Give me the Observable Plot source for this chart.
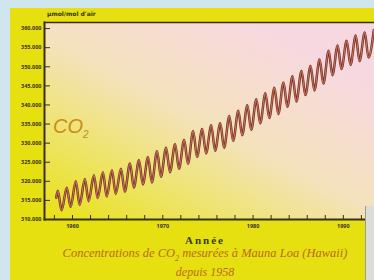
<!DOCTYPE html>
<html><head><meta charset="utf-8">
<script src="https://cdn.jsdelivr.net/npm/d3@7"></script>
<script src="https://cdn.jsdelivr.net/npm/@observablehq/plot@0.6"></script>
<style>
body{margin:0;background:#cfe6ee;}
#wrap{position:relative;width:374px;height:280px;background:#cfe6ee;overflow:hidden;}
#frame{position:absolute;left:10px;top:8px;width:364px;height:272px;background:#e6e010;}
#chart{position:absolute;left:0;top:0;}
.t{position:absolute;white-space:nowrap;}
#unit{left:47px;top:10px;line-height:8px;font:bold 6px "DejaVu Sans",sans-serif;color:#3a3418;}
#co2{left:53px;top:115px;line-height:22px;font:italic 20px "Liberation Sans",sans-serif;color:#c98c1c;}
#co2 sub{font-size:10px;line-height:0;}
#annee{left:0;width:410px;text-align:center;top:234px;line-height:12px;font:bold 11px "Liberation Serif",serif;letter-spacing:2px;color:#3b3a12;}
#cap1{left:0;width:410px;text-align:center;top:246px;line-height:12px;height:12px;font:italic 12.5px "Liberation Serif",serif;color:#bd6a16;}
#cap1 sub{font-size:8px;line-height:0;}
#cap2{left:0;width:410px;text-align:center;top:265px;line-height:12px;height:12px;font:italic 12px "Liberation Serif",serif;color:#bd6a16;}
#side{position:absolute;left:365px;top:206px;width:9px;height:74px;background:#dcdcd8;border-left:1px solid #9a9a90;}
</style></head>
<body>
<div id="wrap">
  <div id="frame"></div>
  <div id="chart"></div>
  <div class="t" id="unit">µmol/mol d'air</div>
  <div class="t" id="co2">CO<sub>2</sub></div>
  <div class="t" id="annee">Année</div>
  <div class="t" id="cap1">Concentrations de CO<sub>2</sub> mesurées à Mauna Loa (Hawaii)</div>
  <div class="t" id="cap2">depuis 1958</div>
  <div id="side"></div>
</div>
<script>
// Data (Mauna Loa CO2, ppm)
const startYear = 1958.2;
const startValue = 315.7;
const years = [1958,1959,1960,1961,1962,1963,1964,1965,1966,1967,1968,1969,1970,1971,1972,1973,1974,1975,1976,1977,1978,1979,1980,1981,1982,1983,1984,1985,1986,1987,1988,1989,1990,1991,1992,1993];
const peaks = [317.5,318.3,320.0,320.6,321.6,322.4,322.9,323.3,324.7,325.5,326.3,327.9,328.8,329.7,330.8,333.2,333.7,334.7,335.2,337.1,338.5,339.9,341.5,343.1,344.5,345.9,347.5,348.9,350.2,351.9,354.2,355.6,356.8,358.2,359.0,359.6];
const troughs = [312.4,313.3,313.8,314.8,315.6,316.0,316.7,317.3,318.4,319.2,319.7,321.2,322.4,323.3,324.6,326.4,327.3,328.0,328.8,330.6,332.1,333.5,335.2,336.6,337.6,339.5,340.9,342.6,343.8,345.6,347.8,349.4,350.5,351.5,352.4];
const yTicks = [310,315,320,325,330,335,340,345,350,355,360];
const xMinorTicks = [1958,1960,1962,1964,1966,1968,1970,1972,1974,1976,1978,1980,1982,1984,1986,1988,1990,1992];
const xLabels = [1960,1970,1980,1990];

const points = [{t: startYear, v: startValue}];
years.forEach((y, i) => {
  points.push({t: y + 0.37, v: peaks[i]});
  if (i < troughs.length) points.push({t: y + 0.79, v: troughs[i]});
});

const ink = "#3a3018";
const chart = Plot.plot({
  width: 374, height: 280,
  marginLeft: 44, marginRight: 0, marginTop: 22, marginBottom: 61,
  style: {background: "transparent", overflow: "visible"},
  x: {domain: [1956.9, 1993.45], label: null},
  y: {domain: [310, 361.6], label: null},
  marks: [
    Plot.frame({fill: "url(#bg)", stroke: null}),
    Plot.axisY(yTicks, {tickSize: -6, tickPadding: 9, tickFormat: d3.format(".3f"), fontSize: 5.5, fontWeight: "bold", color: ink, stroke: ink, label: null}),
    Plot.axisX(xMinorTicks, {tickSize: -4, tickFormat: () => "", stroke: ink, label: null}),
    Plot.axisX(xLabels, {tickSize: 0, tickPadding: 5, tickFormat: d3.format("d"), fontSize: 5.5, fontWeight: "bold", color: ink, label: null}),
    Plot.frame({anchor: "left", stroke: ink, strokeWidth: 2}),
    Plot.frame({anchor: "bottom", stroke: ink, strokeWidth: 2}),
    Plot.frame({anchor: "top", stroke: ink, strokeWidth: 1.5}),
    Plot.line(points, {x: "t", y: "v", stroke: "#78301c", strokeWidth: 2.5, curve: "monotone-x"}),
    Plot.line(points, {x: "t", y: "v", stroke: "#d98a80", strokeWidth: 0.8, curve: "monotone-x"})
  ]
});
const defs = document.createElementNS("http://www.w3.org/2000/svg", "defs");
defs.innerHTML = `<linearGradient id="bg" x1="0.05" y1="1" x2="0.8" y2="0.15">
  <stop offset="0" stop-color="#e9e11c"/>
  <stop offset="0.3" stop-color="#eee470"/>
  <stop offset="0.58" stop-color="#f4e2bc"/>
  <stop offset="1" stop-color="#f8d8e0"/>
</linearGradient>`;
chart.insertBefore(defs, chart.firstChild);
document.getElementById("chart").appendChild(chart);
</script>
</body></html>
